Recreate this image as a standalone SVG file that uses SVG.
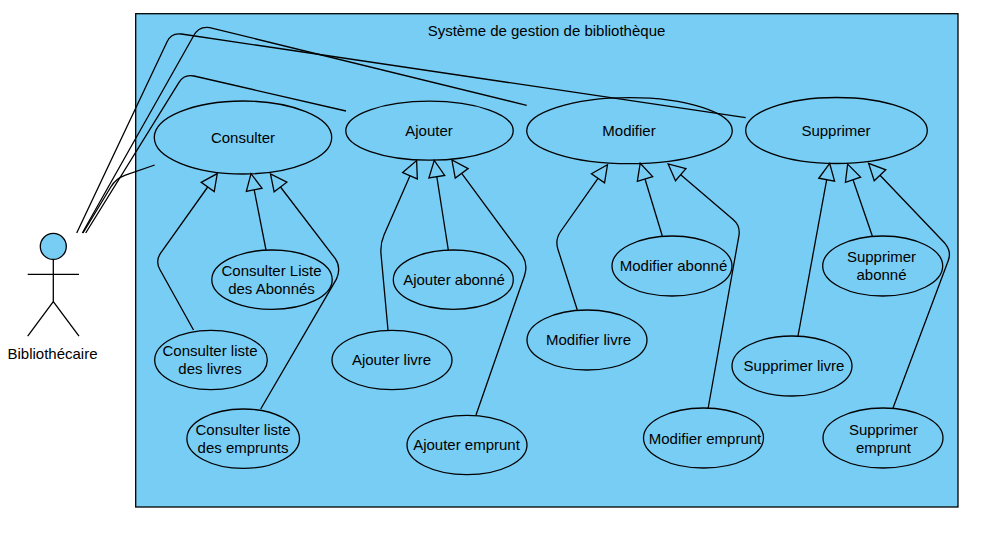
<svg xmlns="http://www.w3.org/2000/svg" width="1001" height="533" viewBox="0 0 1001 533">
<style>
text{font-family:"Liberation Sans",Arial,sans-serif;font-size:15px;fill:#000;text-anchor:middle}
.n{fill:#78cdf5;stroke:#000;stroke-width:1.3}
.c{fill:none;stroke:#000;stroke-width:1.3}
.g{fill:none;stroke:#000;stroke-width:1.3;marker-end:url(#tri)}
</style>
<defs>
<marker id="tri" markerUnits="userSpaceOnUse" markerWidth="20" markerHeight="20" refX="0" refY="8" orient="auto" overflow="visible">
<polygon points="0,0 16.5,8 0,16" fill="#78cdf5" stroke="#000" stroke-width="1.3"/>
</marker>
</defs>
<rect x="0" y="0" width="1001" height="533" fill="#fff"/>
<g id="system">
<rect class="n" x="135.7" y="13.7" width="822.3" height="493.3"/>
<text x="546.5" y="36">Système de gestion de bibliothèque</text>
</g>
<g id="actor">
<circle class="n" cx="53.3" cy="246.4" r="13"/>
<path class="c" d="M53.3 259.4V301.7M27.7 274.4H79M27.7 336.2L53.3 301.7L79 336.2"/>
<text x="52.5" y="358.5">Bibliothécaire</text>
</g>
<g id="consulter"><ellipse class="n" cx="243" cy="137.5" rx="88.7" ry="36.5"/><text x="243" y="143">Consulter</text></g>
<g id="ajouter"><ellipse class="n" cx="429.5" cy="130.7" rx="83.7" ry="29.5"/><text x="429" y="136">Ajouter</text></g>
<g id="modifier"><ellipse class="n" cx="629.5" cy="130.7" rx="102.8" ry="33"/><text x="629" y="136">Modifier</text></g>
<g id="supprimer"><ellipse class="n" cx="836.5" cy="130.5" rx="90.8" ry="33"/><text x="836" y="136">Supprimer</text></g>
<g id="consulter-abonnes"><ellipse class="n" cx="272" cy="279.7" rx="60.2" ry="29.7"/><text x="271.5" y="276">Consulter Liste</text><text x="271.5" y="294">des Abonnés</text></g>
<g id="consulter-livres"><ellipse class="n" cx="211" cy="360" rx="56.3" ry="29.7"/><text x="210" y="356">Consulter liste</text><text x="210" y="374">des livres</text></g>
<g id="consulter-emprunts"><ellipse class="n" cx="243.2" cy="438.7" rx="56.3" ry="29.7"/><text x="243" y="435">Consulter liste</text><text x="243" y="453">des emprunts</text></g>
<g id="ajouter-abonne"><ellipse class="n" cx="453.3" cy="279.7" rx="60" ry="29.7"/><text x="454" y="285">Ajouter abonné</text></g>
<g id="ajouter-livre"><ellipse class="n" cx="392" cy="360" rx="60" ry="29.7"/><text x="391.5" y="365">Ajouter livre</text></g>
<g id="ajouter-emprunt"><ellipse class="n" cx="467" cy="445" rx="60" ry="29.7"/><text x="466.5" y="450">Ajouter emprunt</text></g>
<g id="modifier-abonne"><ellipse class="n" cx="672" cy="266" rx="60" ry="30"/><text x="673.5" y="271">Modifier abonné</text></g>
<g id="modifier-livre"><ellipse class="n" cx="587" cy="340" rx="60" ry="30"/><text x="588.5" y="345">Modifier livre</text></g>
<g id="modifier-emprunt"><ellipse class="n" cx="703.5" cy="438" rx="60" ry="30"/><text x="705" y="444">Modifier emprunt</text></g>
<g id="supprimer-abonne"><ellipse class="n" cx="882.7" cy="266" rx="60" ry="30"/><text x="881.5" y="262">Supprimer</text><text x="881.5" y="280">abonné</text></g>
<g id="supprimer-livre"><ellipse class="n" cx="792" cy="366" rx="60" ry="30"/><text x="794" y="371">Supprimer livre</text></g>
<g id="supprimer-emprunt"><ellipse class="n" cx="883" cy="438" rx="60" ry="30"/><text x="883.5" y="435">Supprimer</text><text x="883.5" y="453">emprunt</text></g>
<g id="connectors">
<path class="c" d="M83 233L110.8 187Q116 178.5 125.4 175.2L154.7 165"/>
<path class="c" d="M85.7 233L179 82.3Q184.3 73.8 194 76L346 111"/>
<path class="c" d="M82.3 233L193.5 36Q198.5 26 209.7 27.6L526.7 105.3"/>
<path class="c" d="M76.7 233L167.2 41.5Q171.5 32.5 181.4 34L745.7 117.7"/>
<path class="g" d="M193.5 330L160 269.7Q155 261 160.8 252.8L207.7 187"/>
<path class="g" d="M266 250L254.2 189.8"/>
<path class="g" d="M260.7 409L336.4 279.2Q341.5 268 335.3 258.7L280.5 187"/>
<path class="g" d="M388 330L381 254Q380.1 244 384.1 234.8L410 175.7"/>
<path class="g" d="M476 415L524.5 275.7Q528 265 522.9 256.3L461.7 173.3"/>
<path class="g" d="M448.3 250L436.8 176.7"/>
<path class="g" d="M577.3 310L557.9 249.2Q554.9 239.7 560.6 231.5L598 178.3"/>
<path class="g" d="M662.3 236L645 179"/>
<path class="g" d="M708 409L738.9 235.8Q740.7 226 733.1 219.5L680.7 174.7"/>
<path class="g" d="M798 336L826.7 179.7"/>
<path class="g" d="M872.3 236L853 179.7"/>
<path class="g" d="M893 408L948.2 260.8Q951.8 251.5 944.9 243.3L880 175.3"/>
</g>
</svg>
